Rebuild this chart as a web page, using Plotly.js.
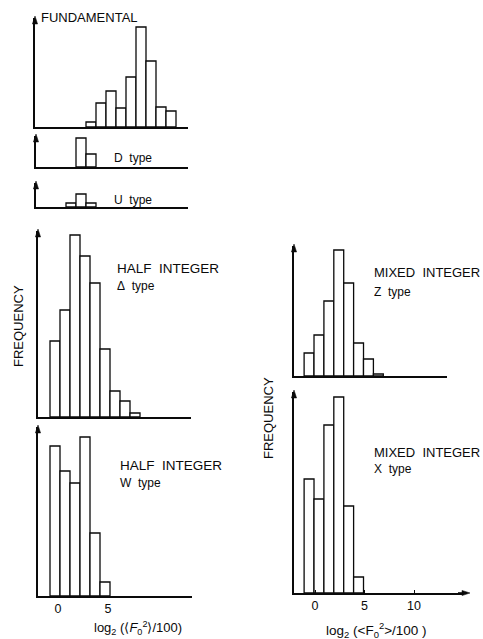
<!DOCTYPE html>
<html><head><meta charset="utf-8">
<script src="https://cdn.plot.ly/plotly-3.0.1.min.js"></script>
<style>html,body{margin:0;padding:0;background:#fff}#chart{width:483px;height:639px}</style>
</head><body><div id="chart"></div>
<script>
// ---- data (bin centres in log2 units, frequencies in arbitrary units) ----
const fundBins  = [3.3,4.3,5.3,6.3,7.3,8.3,9.3,10.3,11.3];
const fundFreq  = [5,24,36,19,50,100,66,20,16];
const dBins     = [2.3,3.3];
const dFreq     = [29,13];
const uBins     = [1.3,2.3,3.3];
const uFreq     = [4,13,4];
const deltaBins = [-0.3,0.7,1.7,2.7,3.7,4.7,5.7,6.7,7.7];
const deltaFreq = [76,107,182,161,134,68,26,16,4];
const wBins     = [-0.3,0.7,1.7,2.7,3.7,4.7];
const wFreq     = [150,125,113,159,63,14];
const zBins     = [-0.6,0.4,1.4,2.4,3.4,4.4,5.4,6.4];
const zFreq     = [23,41,75,126,93,33,17,2];
const xBins     = [-0.6,0.4,1.4,2.4,3.4,4.4];
const xFreq     = [114,94,168,196,87,16];
const leftTicks  = [0,5];
const rightTicks = [0,5,10];
const leftXLabel  = "log<sub>2</sub> (\u27e8<i>F</i><sub>0</sub><sup>2</sup>\u27e9/100)";
const rightXLabel = "log<sub>2</sub> (&lt;F<sub>0</sub><sup>2</sup>&gt;/100 )";
const yLabel = "FREQUENCY";

// ---- layout geometry ----
const W = 483, H = 639;
const FONT = "Liberation Sans, Arial, sans-serif";
const INK = '#0a0a0a';
const panels = [
  {x:fundBins,  y:fundFreq,  px:[35,188], py:[18,127],  col:'L'},
  {x:dBins,     y:dFreq,     px:[36,188], py:[136,167], col:'L'},
  {x:uBins,     y:uFreq,     px:[36,188], py:[183,207], col:'L'},
  {x:deltaBins, y:deltaFreq, px:[38,191], py:[231,417], col:'L'},
  {x:wBins,     y:wFreq,     px:[38,192], py:[427,596], col:'L', ticks:leftTicks},
  {x:zBins,     y:zFreq,     px:[294,447], py:[246,376], col:'R'},
  {x:xBins,     y:xFreq,     px:[294,462], py:[392,593], col:'R', ticks:rightTicks}
];
const data = [];
const layout = {
  width:W, height:H, margin:{l:0,r:0,t:0,b:0}, showlegend:false,
  paper_bgcolor:'#fff', plot_bgcolor:'#fff', bargap:0,
  font:{family:FONT, color:INK, size:12},
  annotations:[], shapes:[]
};
const PX = v => v/W, PY = v => 1 - v/H;
// filled triangle arrowhead in paper coordinates
function arrowUp(x, yTip){
  layout.shapes.push({type:'path', xref:'paper', yref:'paper',
    path:`M ${PX(x)} ${PY(yTip)} L ${PX(x-2.6)} ${PY(yTip+8)} L ${PX(x+2.6)} ${PY(yTip+8)} Z`,
    fillcolor:INK, line:{color:INK, width:0.5}});
}
function arrowRight(xTip, y){
  layout.shapes.push({type:'path', xref:'paper', yref:'paper',
    path:`M ${PX(xTip)} ${PY(y)} L ${PX(xTip-8)} ${PY(y-2.6)} L ${PX(xTip-8)} ${PY(y+2.6)} Z`,
    fillcolor:INK, line:{color:INK, width:0.5}});
  layout.shapes.push({type:'line', xref:'paper', yref:'paper',
    x0:PX(xTip-12), x1:PX(xTip-6), y0:PY(y), y1:PY(y), line:{color:INK, width:1.6}});
}
panels.forEach((p,i)=>{
  const n = i===0 ? '' : String(i+1);
  const toX = p.col==='L' ? (v=>(v-58)/10) : (v=>(v-315)/9.9);
  data.push({type:'bar', x:p.x, y:p.y, width:1, xaxis:'x'+n, yaxis:'y'+n,
    marker:{color:'#fff', line:{color:INK, width:1.3}}, hoverinfo:'skip'});
  layout['xaxis'+n] = {domain:[p.px[0]/W, p.px[1]/W], range:[toX(p.px[0]), toX(p.px[1])],
    anchor:'y'+n, showline:true, linecolor:INK, linewidth:1.6, zeroline:false,
    showgrid:false, fixedrange:true,
    showticklabels: !!p.ticks, tickvals: p.ticks || [], ticktext:(p.ticks||[]).map(String),
    ticks: (p.ticks && p.col==='R') ? 'inside' : '', ticklen:3, tickcolor:INK,
    tickfont:{family:FONT, size:12.5, color:INK}};
  layout['yaxis'+n] = {domain:[1-p.py[1]/H, 1-p.py[0]/H], range:[0, p.py[1]-p.py[0]],
    anchor:'x'+n, showline:true, linecolor:INK, linewidth:1.6, zeroline:false,
    showgrid:false, showticklabels:false, ticks:'', fixedrange:true};
  arrowUp(p.px[0], p.py[0]-2);
});
arrowRight(470, 593);

const txt = (s,x,y,size,opt={}) => layout.annotations.push(Object.assign({
  xref:'paper', yref:'paper', x:x/W, y:1-y/H, text:s, showarrow:false,
  xanchor:'left', yanchor:'middle', font:{family:FONT, size:size, color:INK}}, opt));
const nb = '\u00a0';
txt('FUNDAMENTAL', 39, 18, 13);
txt('D'+nb+nb+'type', 112, 158, 12);
txt('U'+nb+nb+'type', 112, 200, 12);
txt('HALF'+nb+nb+'INTEGER', 115, 268, 13.5);
txt('\u0394'+nb+nb+'type', 115, 286, 12);
txt('HALF'+nb+nb+'INTEGER', 118, 465, 13.5);
txt('W'+nb+nb+'type', 118, 483, 12);
txt('MIXED'+nb+nb+'INTEGER', 372, 273, 13);
txt('Z'+nb+nb+'type', 372, 292, 12);
txt('MIXED'+nb+nb+'INTEGER', 372, 452, 13);
txt('X'+nb+nb+'type', 372, 469, 12);
txt(yLabel, 18, 326, 13, {xanchor:'center', textangle:-90});
txt(yLabel, 268, 418, 13, {xanchor:'center', textangle:-90});
txt(leftXLabel, 138, 628, 13, {xanchor:'center'});
txt(rightXLabel, 376, 630, 13.5, {xanchor:'center'});

Plotly.newPlot('chart', data, layout, {displayModeBar:false, staticPlot:true});
</script></body></html>
